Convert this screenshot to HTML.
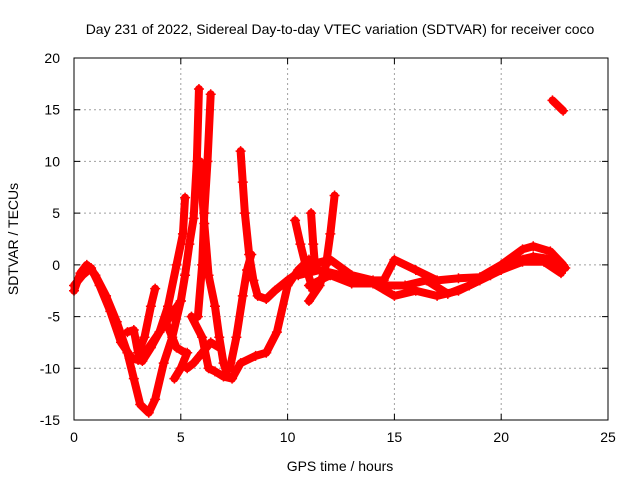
<!DOCTYPE html>
<html><head><meta charset="utf-8"><style>
body{margin:0;background:#fff;}
svg text{font-family:"Liberation Sans",sans-serif;font-size:14px;fill:#000;}
</style></head><body>
<svg id="chart" width="640" height="480" xmlns="http://www.w3.org/2000/svg">
<text x="340" y="34" text-anchor="middle">Day 231 of 2022, Sidereal Day-to-day VTEC variation (SDTVAR) for receiver coco</text>
<g id="grid"></g><g id="series"></g><g id="axes"></g>
<text x="340" y="471" text-anchor="middle">GPS time / hours</text>
<text transform="translate(18,239) rotate(-90)" text-anchor="middle">SDTVAR / TECUs</text>
</svg>
<script>
const xTicks=[0,5,10,15,20,25];
const yTicks=[-15,-10,-5,0,5,10,15,20];
const trace1=[[0,-2.5],[0.3,-0.8],[0.6,0],[1,-1],[1.5,-3],[2,-5.5],[2.5,-8.5],[2.8,-11],[3.1,-13.5],[3.5,-14.3],[3.8,-13],[4.2,-9.5],[4.6,-7],[5,-3.5],[5.2,-1],[5.4,2],[5.6,4.5],[5.75,10],[5.85,17]];
const trace2=[[0,-2],[0.4,-1],[0.8,-0.3],[1.2,-2],[1.7,-4.5],[2.2,-7.5],[2.7,-9],[3.2,-9.3],[3.6,-8],[4,-6.5],[4.4,-4],[4.8,0],[5.1,3],[5.2,6.5]];
const trace3=[[2.5,-6.5],[2.8,-6.3],[3,-8.5],[3.3,-7],[3.6,-4],[3.8,-2.3]];
const trace4=[[2.6,-9],[3,-9.2],[3.5,-8],[4,-6.5],[4.5,-5],[5,-3.5]];
const trace5=[[4.3,-5.5],[4.8,-8],[5.2,-8.5]];
const trace6=[[4.7,-11],[5,-10],[5.3,-8.5]];
const trace7=[[5.8,-5],[6,0],[6.1,5],[6.25,10],[6.4,16.5]];
const trace8=[[5.9,10],[6.1,4],[6.3,-1],[6.6,-4],[6.8,-7],[7,-9.5],[7.2,-10.8]];
const trace9=[[7.8,11],[7.9,8],[8,5],[8.2,1],[8.4,-1.5],[8.6,-3],[9,-3.3],[9.4,-2.5],[10,-1.5]];
const trace10=[[7.3,-10],[7.6,-7],[7.9,-3],[8.1,-0.5],[8.3,1]];
const trace11=[[5.5,-5],[6,-7],[6.3,-10],[6.6,-10.3],[7,-10.8],[7.4,-11],[7.8,-9.5],[8.5,-8.8],[9,-8.5],[9.5,-6.5],[10,-2],[10.5,-0.5],[11,0.5]];
const trace12=[[5.3,-10],[5.6,-9.5],[6,-8.5],[6.4,-7.5],[6.8,-8]];
const trace13=[[10.35,4.3],[10.6,2],[10.9,-0.5],[11.2,-2.5]];
const trace14=[[11.1,5],[11.2,2],[11.3,-0.5]];
const trace15=[[12.2,6.7],[12,3],[11.8,0],[11.5,-2],[11,-3.5]];
const trace16=[[10,-1.5],[11,0],[12,0.5],[13,-1],[14,-1.5],[14.5,-1.5],[15,0.5],[16,-0.5],[17,-1.5],[18,-1.3],[19,-1.2],[20,0],[21,1.5],[21.5,1.8],[22.3,1.3],[22.9,0]];
const trace17=[[10.5,-1],[11.5,-0.5],[12.5,-1],[13.5,-1.5],[14.5,-2],[15.5,-2],[16.5,-1.5],[17.5,-2.8],[18.5,-2],[19.5,-1],[20.5,0.3],[21.5,0.8],[22.5,0.5],[23,-0.3]];
const trace18=[[11,-2],[12,-1],[13,-1.8],[14,-1.8],[15,-3],[16,-2.5],[17,-3],[18,-2.5],[19,-1.5],[20,-0.5],[21,0.3],[22,0.3],[22.8,-0.8]];
const trace19=[[22.4,15.9],[22.9,14.9]];
const traces=[trace1,trace2,trace3,trace4,trace5,trace6,trace7,trace8,trace9,trace10,trace11,trace12,trace13,trace14,trace15,trace16,trace17,trace18,trace19];

const NS="http://www.w3.org/2000/svg";
const L=74,R=608,T=58,B=420;
const xs=h=>L+(h-0)/25*(R-L);
const ys=v=>B-(v+15)/35*(B-T);
function mk(tag,attrs,parent){const e=document.createElementNS(NS,tag);for(const k in attrs)e.setAttribute(k,attrs[k]);parent.appendChild(e);return e;}
const grid=document.getElementById('grid'),axes=document.getElementById('axes'),series=document.getElementById('series');
xTicks.forEach(t=>{
  if(t>0&&t<25){const g=mk('line',{x1:xs(t),x2:xs(t),y1:T,y2:B,stroke:'#a0a0a0','stroke-dasharray':'2,3'},grid);
  
  }
  const tk=mk('path',{d:`M${xs(t)},${B}v-6M${xs(t)},${T}v6`,stroke:'#000'},axes);
  
  
  const tl=mk('text',{x:xs(t),y:B+22,'text-anchor':'middle'},axes);tl.textContent=t;
  
  
});
yTicks.forEach(t=>{
  if(t>-15&&t<20){const g=mk('line',{x1:L,x2:R,y1:ys(t),y2:ys(t),stroke:'#a0a0a0','stroke-dasharray':'2,3'},grid);
  
  }
  const tk=mk('path',{d:`M${L},${ys(t)}h6M${R},${ys(t)}h-6`,stroke:'#000'},axes);
  
  
  const tl=mk('text',{x:L-14,y:ys(t)+5,'text-anchor':'end'},axes);tl.textContent=t;
  
  
});
const frame=mk('rect',{x:L,y:T,width:R-L,height:B-T,fill:'none',stroke:'#000','stroke-width':1},axes);


traces.forEach((tr,i)=>{
  const pl=mk('polyline',{points:tr.map(p=>xs(p[0])+','+ys(p[1])).join(' '),fill:'none',stroke:'#ff0000','stroke-width':8,'stroke-linejoin':'round','stroke-linecap':'round'},series);
  
  
  tr.forEach(p=>{
    const m=mk('path',{d:`M${xs(p[0])-5},${ys(p[1])}h10M${xs(p[0])},${ys(p[1])-5}v10`,stroke:'#ff0000','stroke-width':1.5},series);
    
    
  });
});
</script>
</body></html>
